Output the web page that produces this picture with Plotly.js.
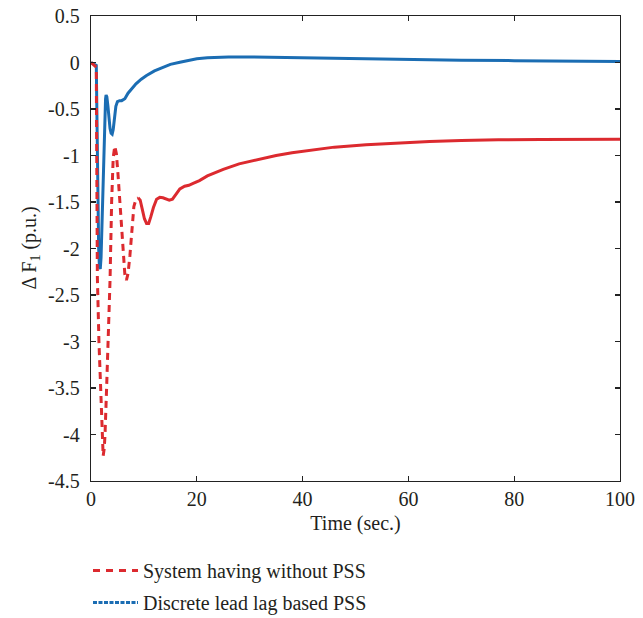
<!DOCTYPE html>
<html>
<head>
<meta charset="utf-8">
<script src="https://cdn.plot.ly/plotly-3.0.1.min.js"></script>
<style>html,body{margin:0;padding:0;background:#fff;}#chart{width:643px;height:618px;}</style>
</head>
<body>
<div id="chart"></div>
<script>
// Time (sec.) and ΔF1 (p.u.) values
const timeBlue = [0, 1.0, 1.15, 1.3, 1.45, 1.6, 1.75, 1.9, 2.05, 2.2, 2.4, 2.6, 2.75, 2.85, 3.0, 3.2, 3.4, 3.6, 3.8, 4.0, 4.2, 4.4, 4.7, 5.0, 5.4, 5.8, 6.4, 7.0, 7.7, 8.5, 9.5, 10.5, 12, 13.6, 15, 16.8, 18.5, 20, 22, 24, 26, 30, 35, 40, 50, 60, 70, 80, 90, 100];
const valBlue  = [0, -0.03, -0.7, -1.5, -2.0, -2.2, -2.22, -2.1, -1.75, -1.35, -0.9, -0.55, -0.39, -0.35, -0.37, -0.47, -0.6, -0.71, -0.76, -0.77, -0.72, -0.6, -0.47, -0.42, -0.41, -0.41, -0.39, -0.33, -0.28, -0.23, -0.18, -0.14, -0.09, -0.05, -0.02, 0.003, 0.025, 0.04, 0.05, 0.056, 0.058, 0.06, 0.055, 0.05, 0.04, 0.03, 0.025, 0.02, 0.015, 0.01];

const timeRed = [0, 1.0, 1.1, 1.2, 1.5, 1.8, 2.05, 2.3, 2.5, 2.65, 2.95, 3.25, 3.6, 3.9, 4.2, 4.5, 4.8, 5.1, 5.4, 5.8, 6.1, 6.4, 6.7, 7.0, 7.35, 7.7, 8.1, 8.5, 8.9, 9.3, 9.7, 10.1, 10.5, 10.9, 11.3, 11.8, 12.4, 13.0, 13.6, 14.2, 14.8, 15.4, 16, 16.8, 17.7, 18.5, 19.3, 20.5, 22, 25, 28, 31.6, 35, 38, 42, 46, 52, 58, 64, 70, 77, 85, 92, 100];
const valRed  = [0, -0.05, -1.2, -2.3, -3.0, -3.5, -4.0, -4.23, -4.15, -4.0, -3.5, -3.0, -2.34, -1.5, -1.02, -0.9, -0.98, -1.2, -1.45, -1.8, -2.08, -2.28, -2.34, -2.27, -2.08, -1.8, -1.55, -1.47, -1.455, -1.48, -1.58, -1.68, -1.73, -1.73, -1.66, -1.56, -1.47, -1.45, -1.455, -1.47, -1.48, -1.47, -1.42, -1.36, -1.33, -1.32, -1.30, -1.27, -1.22, -1.15, -1.09, -1.04, -1.0, -0.97, -0.94, -0.91, -0.885, -0.865, -0.85, -0.84, -0.83, -0.828, -0.826, -0.825];

const xTicks = [0, 20, 40, 60, 80, 100];
const yTicks = [0.5, 0, -0.5, -1, -1.5, -2, -2.5, -3, -3.5, -4, -4.5];
const seriesNames = ['System having without PSS', 'Discrete lead lag based PSS'];
const yTitle = 'Δ F<sub>1</sub> (p.u.)';

const RED = '#dc2a2f';
const BLUE = '#1b6db3';
const FONT = 'Liberation Serif, Times New Roman, serif';
const TXT = '#231f20';

// red: dashed early part, dense-looking solid later part
const splitT = 8.9;
const iSplit = timeRed.indexOf(splitT);

const traces = [
  {x: timeBlue, y: valBlue, mode: 'lines', line: {color: BLUE, width: 3}, showlegend: false},
  {x: timeRed.slice(0, iSplit + 1), y: valRed.slice(0, iSplit + 1), mode: 'lines', line: {color: RED, width: 3, dash: '7px,5px'}, showlegend: false},
  {x: timeRed.slice(iSplit), y: valRed.slice(iSplit), mode: 'lines', line: {color: RED, width: 3}, showlegend: false},
  {x: [null], y: [null], mode: 'lines', name: seriesNames[0], line: {color: RED, width: 3, dash: '7px,6px'}, legendgroup: 'a', legendrank: 1},
  {x: [null], y: [null], mode: 'lines', name: seriesNames[1], line: {color: BLUE, width: 3, dash: '4px,1.5px'}, legendgroup: 'b', legendrank: 2}
];

const layout = {
  width: 643, height: 618,
  margin: {l: 91, r: 23, t: 16, b: 137, autoexpand: false},
  paper_bgcolor: '#fff', plot_bgcolor: '#fff',
  font: {family: FONT, size: 20, color: TXT},
  showlegend: true,
  legend: {
    xref: 'container', yref: 'container',
    x: 88 / 643, xanchor: 'left', y: 1 - 551 / 618, yanchor: 'top',
    orientation: 'v', traceorder: 'grouped', tracegroupgap: 3,
    font: {family: FONT, size: 20, color: TXT},
    bgcolor: 'rgba(0,0,0,0)', itemwidth: 45
  },
  xaxis: {
    range: [0, 100], tickvals: xTicks, ticktext: xTicks.map(String),
    showline: true, linecolor: '#222', linewidth: 1.3, mirror: 'ticks',
    ticks: 'inside', ticklen: 5, tickcolor: '#222', tickwidth: 1.3,
    showgrid: false, zeroline: false, automargin: false,
    title: {text: 'Time (sec.)', font: {family: FONT, size: 20, color: TXT}, standoff: 6}
  },
  yaxis: {
    range: [-4.5, 0.5], tickvals: yTicks, ticktext: yTicks.map(String),
    showline: true, linecolor: '#222', linewidth: 1.3, mirror: 'ticks',
    ticks: 'inside', ticklen: 5, tickcolor: '#222', tickwidth: 1.3,
    showgrid: false, zeroline: false, automargin: false, ticklabelstandoff: 6
  },
  annotations: [{
    text: yTitle, xref: 'paper', yref: 'paper', x: 0, y: 0.5,
    xanchor: 'center', yanchor: 'middle', xshift: -61, textangle: -90,
    showarrow: false, font: {family: FONT, size: 20, color: TXT}
  }]
};

Plotly.newPlot('chart', traces, layout, {displayModeBar: false, staticPlot: true});
</script>
</body>
</html>
